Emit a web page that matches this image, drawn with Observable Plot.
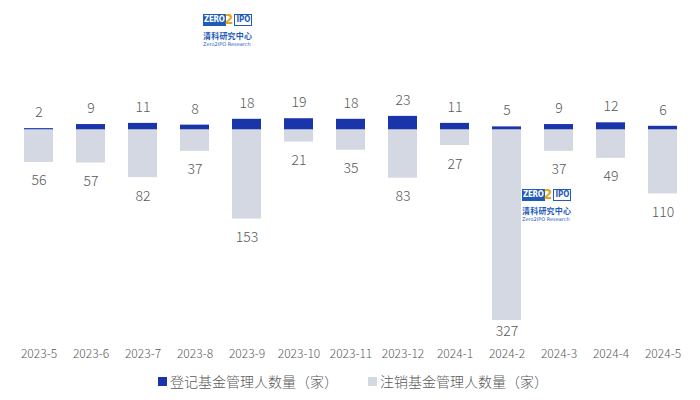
<!DOCTYPE html>
<html>
<head>
<meta charset="utf-8">
<script src="https://cdn.jsdelivr.net/npm/d3@7"></script>
<script src="https://cdn.jsdelivr.net/npm/@observablehq/plot@0.6"></script>
<style>
  html, body { margin: 0; padding: 0; background: #fff; }
  body { width: 700px; height: 400px; position: relative; overflow: hidden;
         font-family: "Noto Sans CJK SC", "Noto Sans", sans-serif; }
  #chart svg { display: block; }
  .legend { position: absolute; left: 0; top: 368px; width: 700px; height: 26px;
            display: flex; justify-content: center; align-items: center;
            font-size: 14px; font-weight: 300; color: #595959; gap: 30px; padding-left: 6px; box-sizing: border-box; }
  .legend span.item { display: inline-flex; align-items: center; }
  .legend i { display: inline-block; width: 9px; height: 9px; margin-right: 3px; }
  .wm { position: absolute; width: 50px; font-family: "Noto Sans CJK SC", sans-serif; }
  .wm .logo { display: flex; align-items: center; height: 13px; font-family: "DejaVu Sans Condensed", "DejaVu Sans", sans-serif; font-weight: bold; font-size: 8px; }
  .wm .zero { background: #1f5bb8; color: #fff; padding: 0 1px; height: 12px; line-height: 12px; letter-spacing: -0.3px; }
  .wm .two { color: #e8a51a; font-size: 14px; margin: 0 0 0 -1px; line-height: 13px; }
  .wm .ipo { border: 1px solid #1f5bb8; color: #1f5bb8; padding: 0 1px; height: 10px; line-height: 10px; margin-left: 1px; }
  .wm .cn { color: #1f5bb8; font-weight: bold; font-size: 8px; line-height: 11px; margin-top: 4px; letter-spacing: 0.2px; white-space: nowrap; }
  .wm .en { color: #1f5bb8; font-size: 5px; line-height: 7px; font-family: "DejaVu Sans", sans-serif; white-space: nowrap; }
</style>
</head>
<body>
<div id="chart"></div>
<div class="legend">
  <span class="item"><i style="background:#1a35aa"></i>登记基金管理人数量（家）</span>
  <span class="item"><i style="background:#d3d8e2"></i>注销基金管理人数量（家）</span>
</div>
<div class="wm" style="left:203px; top:13px;">
  <div class="logo"><span class="zero">ZERO</span><span class="two">2</span><span class="ipo">IPO</span></div>
  <div class="cn">清科研究中心</div>
  <div class="en">Zero2IPO Research</div>
</div>
<div class="wm" style="left:522px; top:188px;">
  <div class="logo"><span class="zero">ZERO</span><span class="two">2</span><span class="ipo">IPO</span></div>
  <div class="cn">清科研究中心</div>
  <div class="en">Zero2IPO Research</div>
</div>
<script>
const months = ["2023-5","2023-6","2023-7","2023-8","2023-9","2023-10","2023-11","2023-12","2024-1","2024-2","2024-3","2024-4","2024-5"];
const registered = [2, 9, 11, 8, 18, 19, 18, 23, 11, 5, 9, 12, 6];
const cancelled = [56, 57, 82, 37, 153, 21, 35, 83, 27, 327, 37, 49, 110];

const blue = "#1a35aa";
const gray = "#d3d8e2";

const reg = months.map((m, i) => ({month: m, value: registered[i]}));
const can = months.map((m, i) => ({month: m, value: -cancelled[i], label: cancelled[i]}));
const maxCancel = d3.max(cancelled);

const textStyle = {fontSize: 14, fontWeight: 300, fill: "#595959", textAnchor: "middle", lineAnchor: "middle"};

const chart = Plot.plot({
  width: 700,
  height: 368,
  marginLeft: 7.5,
  marginRight: 6.8,
  marginTop: 10,
  marginBottom: 25,
  style: {fontFamily: '"Noto Sans CJK SC", "Noto Sans", sans-serif', background: "#fff"},
  x: {domain: months, paddingInner: 0.44, paddingOuter: 0.3, label: null},
  y: {domain: [-327, 0], range: [320, 129.3], axis: null},
  marks: [
    Plot.barY(can, {x: "month", y1: 0, y2: "value", fill: gray}),
    Plot.barY(reg, {x: "month", y1: 0, y2: "value", fill: blue}),
    Plot.text(reg, {x: "month", y: "value", text: d => String(d.value), dy: -16, ...textStyle}),
    Plot.text(can.filter(d => d.label !== maxCancel), {x: "month", y: "value", text: d => String(d.label), dy: 18.5, ...textStyle}),
    Plot.text(can.filter(d => d.label === maxCancel), {x: "month", y: "value", text: d => String(d.label), dy: 11, ...textStyle}),
    Plot.axisX({tickSize: 0, tickPadding: 6, fontSize: 12, fontWeight: 300, color: "#595959", label: null})
  ]
});
document.getElementById("chart").appendChild(chart);
</script>
</body>
</html>
